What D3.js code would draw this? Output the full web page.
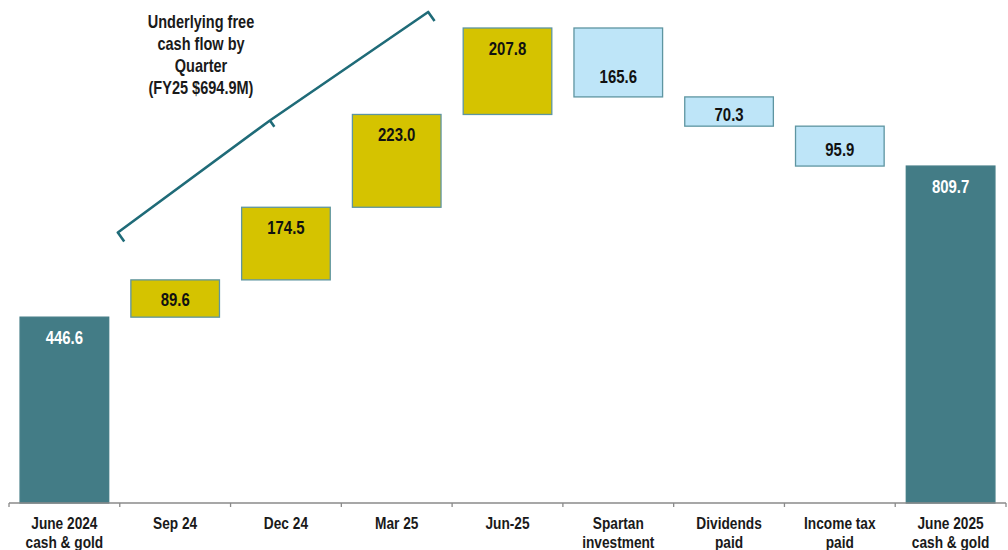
<!DOCTYPE html>
<html><head><meta charset="utf-8">
<script src="https://cdn.jsdelivr.net/npm/d3@7"></script>
<style>
html,body{margin:0;padding:0;background:#fff;}
text{font-family:"Liberation Sans",Arial,sans-serif;font-weight:bold;}
</style></head>
<body><svg id="c" width="1008" height="550"></svg>
<script>
const categories = ["June 2024\ncash & gold","Sep 24","Dec 24","Mar 25","Jun-25","Spartan\ninvestment","Dividends\npaid","Income tax\npaid","June 2025\ncash & gold"];
const values = [446.6, 89.6, 174.5, 223.0, 207.8, -165.6, -70.3, -95.9, 809.7];
const kinds = ["total","up","up","up","up","down","down","down","total"];
const annotationLines = ["Underlying free","cash flow by","Quarter","(FY25 $694.9M)"];

const NARROW = 0.83;
const svg = d3.select("#c");
const x = d3.scaleBand().domain(categories).range([9, 1006]).paddingInner(0.2).paddingOuter(0.1);
const y = d3.scaleLinear().domain([0, 1141.5]).range([503, 28]);

let run = 0;
const bars = values.map((v, i) => {
  let lo, hi;
  if (kinds[i] === "total") { lo = 0; hi = v; run = v; }
  else { const s = run; run = run + v; lo = Math.min(s, run); hi = Math.max(s, run); }
  return {cat: categories[i], v, kind: kinds[i], lo, hi};
});
const fill = {total:"#437C86", up:"#D5C300", down:"#BEE5F8"};
const stroke = {total:"#437C86", up:"#5E95A1", down:"#5E95A1"};

svg.selectAll("rect.bar").data(bars).join("rect").attr("class","bar")
  .attr("x", d => x(d.cat)).attr("width", x.bandwidth())
  .attr("y", d => y(d.hi)).attr("height", d => y(d.lo) - y(d.hi))
  .attr("fill", d => fill[d.kind]).attr("stroke", d => stroke[d.kind]).attr("stroke-width", 1.3);

function narrowText(parent, cx, cy, size, color, lines, lh) {
  const g = parent.append("g").attr("transform", `translate(${cx},${cy}) scale(${NARROW},1)`);
  const t = g.append("text").attr("text-anchor","middle").attr("font-size", size).attr("fill", color);
  lines.forEach((ln, j) => t.append("tspan").attr("x", 0).attr("y", j*lh).text(ln));
  return t;
}

bars.forEach(d => {
  let ty;
  if (d.kind === "down") { const h = y(d.lo) - y(d.hi); ty = y(d.lo) - Math.min(20, h/2 - 3) + 6.5; }
  else ty = y(d.hi) + 26.5;
  narrowText(svg, x(d.cat) + x.bandwidth()/2, ty, 18, d.kind === "total" ? "#fff" : "#111", [Math.abs(d.v).toFixed(1)], 0);
});

// axis
const axisG = svg.append("g").attr("transform","translate(0,503)");
axisG.append("line").attr("x1",9).attr("x2",1006).attr("y1",0).attr("y2",0).attr("stroke","#8a8a8a").attr("stroke-width",1.5);
const bounds = [9].concat(categories.slice(1).map(c => x(c) - x.step()*x.paddingInner()/2)).concat([1006]);
axisG.selectAll("line.tk").data(bounds).join("line").attr("class","tk")
  .attr("x1", d => d).attr("x2", d => d).attr("y1",0).attr("y2",4).attr("stroke","#8a8a8a").attr("stroke-width",1.3);
categories.forEach(c => {
  narrowText(axisG, x(c) + x.bandwidth()/2, 26, 16.5, "#1a1a1a", c.split("\n"), 19);
});

// bracket annotation
const xL = x("Sep 24") - 13, yL = y(650);
const xR = x("Jun-25") - 35, yR = y(1180);
const dx = xR - xL, dy = yR - yL, len = Math.hypot(dx, dy);
const ux = dx/len, uy = dy/len;
const px = -uy, py = ux;
const hook = 11;
const sgn = (px > 0) ? 1 : -1;
const hx = px*sgn*hook, hy = py*sgn*hook;
const mx = xL + dx*0.49, my = yL + dy*0.49 - 4;
const path = `M${xL+hx},${yL+hy} L${xL},${yL} L${mx},${my} L${xR},${yR} L${xR+hx},${yR+hy} M${mx},${my} L${mx+hx*0.7},${my+hy*0.7}`;
svg.append("path").attr("d", path).attr("fill","none").attr("stroke","#1F6B78").attr("stroke-width",2.6).attr("stroke-linejoin","round");

narrowText(svg, 201, 28, 17.5, "#1a1a1a", annotationLines, 22);
</script></body></html>
